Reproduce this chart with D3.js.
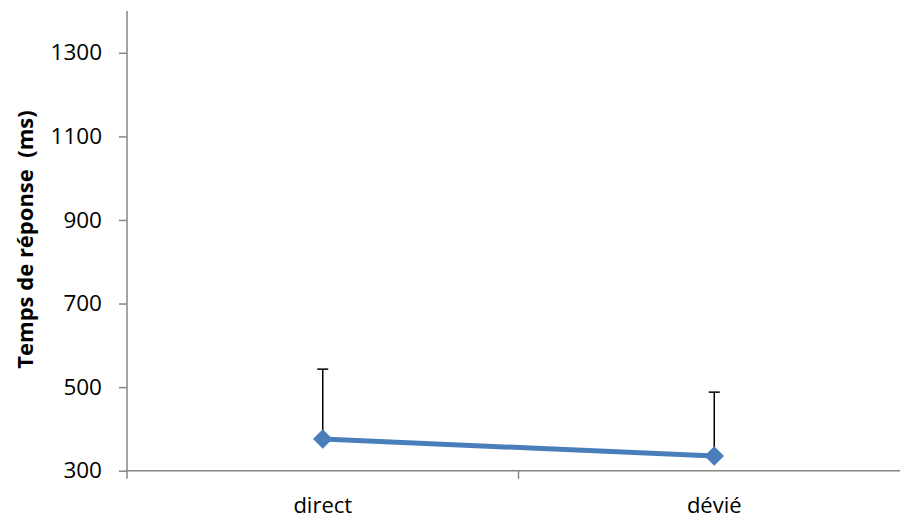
<!DOCTYPE html>
<html><head><meta charset="utf-8">
<script src="https://cdn.jsdelivr.net/npm/d3@7"></script>
<style>body{margin:0;background:#fff}svg{display:block}</style>
</head><body>
<svg id="c" width="900" height="521"></svg>
<script>
const categories = ["direct", "dévié"];
const values = [376, 335];
const errPlus = [167, 153];
const yTicks = [300, 500, 700, 900, 1100, 1300];
const yLabel = "Temps de réponse  (ms)";

const svg = d3.select("#c");
const mLeft = 127, mTop = 11, mBottom = 470.7, bandW = 391.5;
const x = d3.scaleBand().domain(categories).range([mLeft, mLeft + bandW * categories.length]).padding(0);
const y = d3.scaleLinear().domain([300, 1400]).range([mBottom, mTop]);
const font = "'Open Sans', 'Noto Sans', sans-serif";
const axisCol = "#868686";

// y axis
const ya = svg.append("g").attr("transform", `translate(${mLeft},0)`)
  .call(d3.axisLeft(y).tickValues(yTicks).tickSize(8).tickPadding(17).tickFormat(d3.format("d")));
ya.select(".domain").attr("stroke", axisCol).attr("stroke-width", 1.5).attr("d", `M0,${y(1400)}V${mBottom}`);
ya.selectAll(".tick line").attr("stroke", axisCol).attr("stroke-width", 1.5);
ya.selectAll(".tick text").attr("font-family", font).attr("font-size", 22.5).attr("fill", "#000");

// x axis
const xa = svg.append("g").attr("transform", `translate(0,${mBottom})`)
  .call(d3.axisBottom(x).tickSize(0).tickPadding(27));
xa.select(".domain").attr("stroke", axisCol).attr("stroke-width", 1.5).attr("d", `M${mLeft},0H900`);
xa.selectAll(".tick text").attr("font-family", font).attr("font-size", 22).attr("fill", "#000");
// boundary ticks
const bounds = d3.range(categories.length + 1).map(i => mLeft + i * x.step());
xa.selectAll(".bt").data(bounds).enter().append("line")
  .attr("x1", d => d).attr("x2", d => d).attr("y1", 0).attr("y2", 8)
  .attr("stroke", axisCol).attr("stroke-width", 1.5);

const cx = d => x(d) + x.bandwidth() / 2;
const data = categories.map((c, i) => ({c, v: values[i], e: errPlus[i]}));

// error bars
const eb = svg.append("g");
data.forEach(d => {
  eb.append("line").attr("x1", cx(d.c)).attr("x2", cx(d.c)).attr("y1", y(d.v)).attr("y2", y(d.v + d.e))
    .attr("stroke", "#000").attr("stroke-width", 1.5);
  eb.append("line").attr("x1", cx(d.c) - 5.5).attr("x2", cx(d.c) + 5.5).attr("y1", y(d.v + d.e)).attr("y2", y(d.v + d.e))
    .attr("stroke", "#000").attr("stroke-width", 1.5);
});

// line
svg.append("path").datum(data)
  .attr("d", d3.line().x(d => cx(d.c)).y(d => y(d.v)))
  .attr("fill", "none").attr("stroke", "#4a7ebb").attr("stroke-width", 5);

// markers
svg.append("g").selectAll("path").data(data).enter().append("path")
  .attr("d", d3.symbol().type(d3.symbolDiamond2).size(242))
  .attr("transform", d => `translate(${cx(d.c)},${y(d.v)})`)
  .attr("fill", "#4a7ebb");

// y label
svg.append("text").attr("transform", `translate(33,239.5) rotate(-90)`)
  .attr("text-anchor", "middle").attr("font-family", font).attr("font-weight", "bold")
  .attr("font-size", 22).attr("fill", "#000").style("white-space", "pre").text(yLabel);
</script>
</body></html>
